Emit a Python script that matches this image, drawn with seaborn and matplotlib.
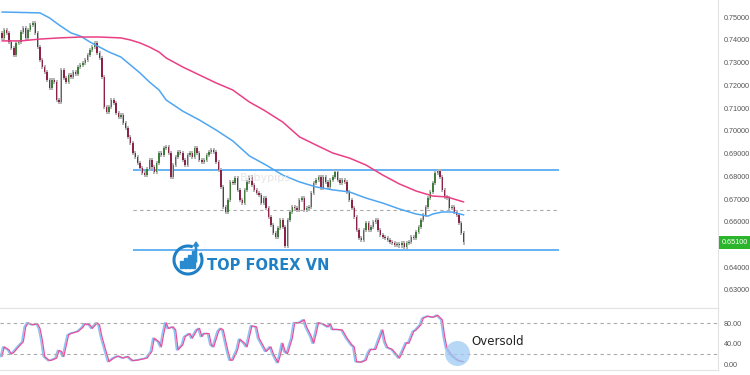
import numpy as np
import pandas as pd
import matplotlib
matplotlib.use("Agg")
import matplotlib.pyplot as plt
import matplotlib.patches as mpatches
import matplotlib.transforms as mtransforms
import seaborn as sns

# Candle closes (one per candle)
closes = [
    0.7408, 0.7443, 0.7430, 0.7390, 0.7364, 0.7333, 0.7386, 0.7390, 0.7434, 0.7452,
    0.7408, 0.7443, 0.7465, 0.7474, 0.7430, 0.7368, 0.7311, 0.7280, 0.7258, 0.7223,
    0.7188, 0.7223, 0.7214, 0.7135, 0.7128, 0.7267, 0.7232, 0.7214, 0.7245, 0.7236,
    0.7258, 0.7250, 0.7280, 0.7289, 0.7298, 0.7311, 0.7333, 0.7355, 0.7368, 0.7386,
    0.7342, 0.7320, 0.7236, 0.7104, 0.7082, 0.7104, 0.7135, 0.7122, 0.7078, 0.7060,
    0.7069, 0.7034, 0.7012, 0.6973, 0.6946, 0.6902, 0.6885, 0.6858, 0.6836, 0.6814,
    0.6805, 0.6832, 0.6871, 0.6841, 0.6819, 0.6858, 0.6902, 0.6893, 0.6924, 0.6929,
    0.6902, 0.6797, 0.6849, 0.6885, 0.6907, 0.6902, 0.6871, 0.6849, 0.6893, 0.6902,
    0.6885, 0.6924, 0.6902, 0.6871, 0.6863, 0.6871, 0.6893, 0.6907, 0.6915, 0.6907,
    0.6863, 0.6827, 0.6753, 0.6665, 0.6643, 0.6696, 0.6775, 0.6770, 0.6792, 0.6740,
    0.6696, 0.6682, 0.6740, 0.6775, 0.6797, 0.6762, 0.6740, 0.6726, 0.6718, 0.6682,
    0.6704, 0.6660, 0.6621, 0.6586, 0.6551, 0.6533, 0.6573, 0.6608, 0.6577, 0.6495,
    0.6608, 0.6643, 0.6665, 0.6660, 0.6652, 0.6696, 0.6704, 0.6652, 0.6660, 0.6665,
    0.6726, 0.6770, 0.6784, 0.6797, 0.6748, 0.6797, 0.6775, 0.6753, 0.6784, 0.6797,
    0.6819, 0.6784, 0.6770, 0.6784, 0.6775, 0.6731, 0.6696, 0.6660, 0.6621, 0.6564,
    0.6529, 0.6520, 0.6564, 0.6595, 0.6564, 0.6577, 0.6599, 0.6608, 0.6564, 0.6542,
    0.6533, 0.6529, 0.6520, 0.6511, 0.6507, 0.6498, 0.6502, 0.6496, 0.6507, 0.6489,
    0.6507, 0.6511, 0.6533, 0.6530, 0.6555, 0.6577, 0.6608, 0.6630, 0.6665, 0.6704,
    0.6731, 0.6770, 0.6814, 0.6823, 0.6797, 0.6740, 0.6709, 0.6704, 0.6660, 0.6665,
    0.6643, 0.6630, 0.6595, 0.6551, 0.6510,
]
first_open = 0.7430

# Moving averages (candle index, value)
ma_fast_idx = [0, 16, 20, 24, 29, 33, 37, 41, 45, 50, 54, 58, 62, 66, 69, 76, 83, 90, 97,
               104, 111, 118, 125, 132, 139, 146, 153, 160, 167, 174, 179, 181, 185, 189, 194]
ma_fast = [0.7522, 0.7518, 0.7496, 0.7465, 0.7430, 0.7416, 0.7390, 0.7368, 0.7346, 0.7324,
           0.7289, 0.7254, 0.7214, 0.7179, 0.7135, 0.7086, 0.7047, 0.7003, 0.6955, 0.6889,
           0.6849, 0.6805, 0.6775, 0.6753, 0.6740, 0.6731, 0.6704, 0.6682, 0.6656, 0.6634,
           0.6625, 0.6634, 0.6643, 0.6643, 0.6630]
ma_slow_idx = [0, 8, 16, 24, 33, 41, 50, 54, 58, 62, 66, 69, 76, 83, 90, 97, 104, 110, 118,
               125, 132, 139, 146, 153, 160, 167, 174, 181, 187, 194]
ma_slow = [0.7395, 0.7395, 0.7403, 0.7408, 0.7412, 0.7412, 0.7408, 0.7399, 0.7386, 0.7368,
           0.7346, 0.7320, 0.7280, 0.7245, 0.7210, 0.7179, 0.7126, 0.7091, 0.7038, 0.6973,
           0.6937, 0.6902, 0.6880, 0.6849, 0.6805, 0.6766, 0.6735, 0.6713, 0.6709, 0.6687]

# Horizontal levels
resistance = 0.6826
support = 0.6478
mid_level = 0.6652
level_span = [55, 234]
last_price = 0.6510

# Stochastic oscillator (%D), candle index and value
stoch_idx = [0, 1, 3, 4, 5, 7, 9, 10, 11, 13, 15, 16, 17, 18, 20, 21, 23, 24, 25, 26,
             28, 29, 32, 34, 35, 37, 38, 40, 41, 42, 44, 45, 47, 49, 51, 53, 55, 57, 59, 61,
             63, 64, 66, 67, 68, 69, 70, 72, 73, 74, 76, 77, 79, 80, 82, 83, 84, 85, 87, 88,
             89, 91, 92, 93, 95,
             96, 97, 99, 100, 102, 103, 104, 105, 107, 108, 110, 111, 113, 114, 116, 117, 118,
             119, 120, 122, 123, 125, 127, 128, 130, 131, 132, 133, 135, 137, 138, 139, 141,
             143, 145, 147, 148, 149, 151, 153, 154, 155, 157, 159, 160, 161, 162, 164, 166,
             167, 168, 170, 171, 173, 174, 176, 177, 179, 181, 182, 183, 185, 186, 187, 189,
             191, 192, 194]
stoch_d = [15, 34, 28, 20, 23, 34, 44, 73, 81, 77, 79, 70, 47, 15, 7, 8, 12, 27, 25, 15,
           57, 60, 64, 72, 79, 77, 70, 81, 77, 54, 21, 5, 12, 16, 12, 15, 7, 8, 10, 12,
           25, 51, 44, 34, 60, 81, 70, 73, 67, 28, 38, 54, 60, 51, 67, 70, 54, 60, 60, 38,
           34, 64, 70, 67, 25,
           8, 8, 28, 49, 41, 34, 54, 75, 73, 51, 34, 25, 34, 21, 3, 18, 41,
           25, 21, 51, 81, 81, 87, 73, 54, 41, 60, 81, 79, 73, 79, 68, 68,
           67, 51, 38, 34, 5, 4, 8, 21, 29, 29, 54, 67, 44, 33, 29, 18,
           12, 21, 42, 41, 64, 67, 77, 90, 94, 92, 93, 96, 87, 54, 31, 18,
           10, 7, 5]
oversold_idx = 191
oversold_val = 22

idx = np.arange(len(closes))
opens = [first_open] + closes[:-1]
df = pd.DataFrame({"idx": idx, "open": opens, "close": closes})
df["up"] = df["close"] >= df["open"]
WICK = 0.0010

sns.set_style("white")
plt.rcParams["font.family"] = ["DejaVu Sans"]
TICK_FONT = "Liberation Sans"

fig = plt.figure(figsize=(7.5, 3.75), dpi=100)
ax = fig.add_axes([0, 1 - 308 / 375, 718 / 750, 308 / 375])
ax2 = fig.add_axes([0, 5 / 375, 718 / 750, 62 / 375])

xlim = (-0.8, 300.8)

# candles
lo = np.minimum(df["open"], df["close"]) - WICK
hi = np.maximum(df["open"], df["close"]) + WICK
ax.vlines(df["idx"], lo, hi, color="#b5b5b5", lw=1.4, zorder=2)
body_col = np.where(df["up"], "#3f7d3a", "#8c2348")
ax.bar(df["idx"], (df["close"] - df["open"]).abs().clip(lower=0.0002),
       bottom=np.minimum(df["open"], df["close"]), width=0.6,
       color=body_col, linewidth=0, zorder=3)

# moving averages
sns.lineplot(x=ma_fast_idx, y=ma_fast, ax=ax, color="#4ea6f2", lw=1.1, zorder=4)
sns.lineplot(x=ma_slow_idx, y=ma_slow, ax=ax, color="#ea3f84", lw=1.1, zorder=4)

# levels
ax.hlines([resistance, support], level_span[0], level_span[1], color="#4ea6f2", lw=1.2, zorder=1)
ax.hlines(mid_level, level_span[0], level_span[1], color="#aaaaaa", lw=0.8,
          linestyles=(0, (3, 3)), zorder=1)

ax.set_xlim(*xlim)
ax.set_ylim(0.75 - 291 / 2275, 0.75 + 17 / 2275)
# 0.65 is hidden behind the last-price tag
price_ticks = [0.63, 0.64, 0.66, 0.67, 0.68, 0.69, 0.70, 0.71, 0.72, 0.73, 0.74, 0.75]
ax.yaxis.tick_right()
ax.set_yticks(price_ticks)
ax.set_yticklabels([f"{t:.5f}" for t in price_ticks], fontsize=5.2, color="#555555",
                   family=TICK_FONT)
ax.tick_params(axis="y", length=0, pad=4)
ax.set_xticks([])
for s in ["top", "left"]:
    ax.spines[s].set_visible(False)
for s in ["right", "bottom"]:
    ax.spines[s].set_color("#e3e3e3")
    ax.spines[s].set_linewidth(0.8)

# last price tag
ax.annotate(f"{last_price:.5f}", xy=(1.0, last_price), xycoords=("axes fraction", "data"),
            xytext=(2.5, 0), textcoords="offset points", ha="left", va="center",
            fontsize=5.2, color="white", family=TICK_FONT, annotation_clip=False,
            bbox=dict(boxstyle="square,pad=0.4", fc="#2ab52a", ec="none"))

# watermark and logo
fig.text(240 / 750, 1 - 178 / 375, "Babypips", fontsize=8, color="#e6e6e6",
         ha="left", va="center", zorder=0)
fig.text(207 / 750, 1 - 265 / 375, "TOP FOREX VN", fontsize=10.5, fontweight="bold",
         color="#1f80c6", ha="left", va="center")
ring = mpatches.Arc((188, 375 - 260), 28, 28, theta1=70, theta2=390,
                    transform=mtransforms.IdentityTransform(), color="#1f80c6", lw=2.2)
fig.patches.append(ring)
for k, h in enumerate([7, 10, 13, 17]):
    bx = mpatches.Rectangle((180 + k * 4, 375 - 268), 2.6, h,
                            transform=mtransforms.IdentityTransform(), color="#2a8ad0")
    fig.patches.append(bx)
arrow = mpatches.FancyArrow(196, 375 - 262, 0, 16, width=1.2, head_width=5, head_length=4,
                            transform=mtransforms.IdentityTransform(), color="#2a8ad0")
fig.patches.append(arrow)

# stochastic panel
shift = mtransforms.offset_copy(ax2.transData, fig=fig, x=-1.5, y=0, units="dots")
sns.lineplot(x=stoch_idx, y=stoch_d, ax=ax2, color="#8cc4f5", lw=1.2, transform=shift)
sns.lineplot(x=stoch_idx, y=stoch_d, ax=ax2, color="#ea4f9a", lw=0.9)
ax2.axhline(80, color="#aaaaaa", lw=0.8, ls=(0, (3, 3)))
ax2.axhline(20, color="#aaaaaa", lw=0.8, ls=(0, (3, 3)))
ax2.plot([oversold_idx], [oversold_val], marker="o", ms=18, color="#9ecbf4",
         alpha=0.75, mec="none", zorder=5)
ax2.text(oversold_idx + 6, 45, "Oversold", fontsize=8.5, color="#222222",
         ha="left", va="center")
ax2.set_xlim(*xlim)
ax2.set_ylim(-11.3, 110)
ax2.yaxis.tick_right()
ax2.set_yticks([0, 40, 80])
ax2.set_yticklabels(["0.00", "40.00", "80.00"], fontsize=5.2, color="#555555",
                    family=TICK_FONT)
ax2.tick_params(axis="y", length=0, pad=4)
ax2.set_xticks([])
ax2.spines["left"].set_visible(False)
for s in ["top", "right", "bottom"]:
    ax2.spines[s].set_color("#e3e3e3")
    ax2.spines[s].set_linewidth(0.8)

fig.savefig("out.png", dpi=100)
